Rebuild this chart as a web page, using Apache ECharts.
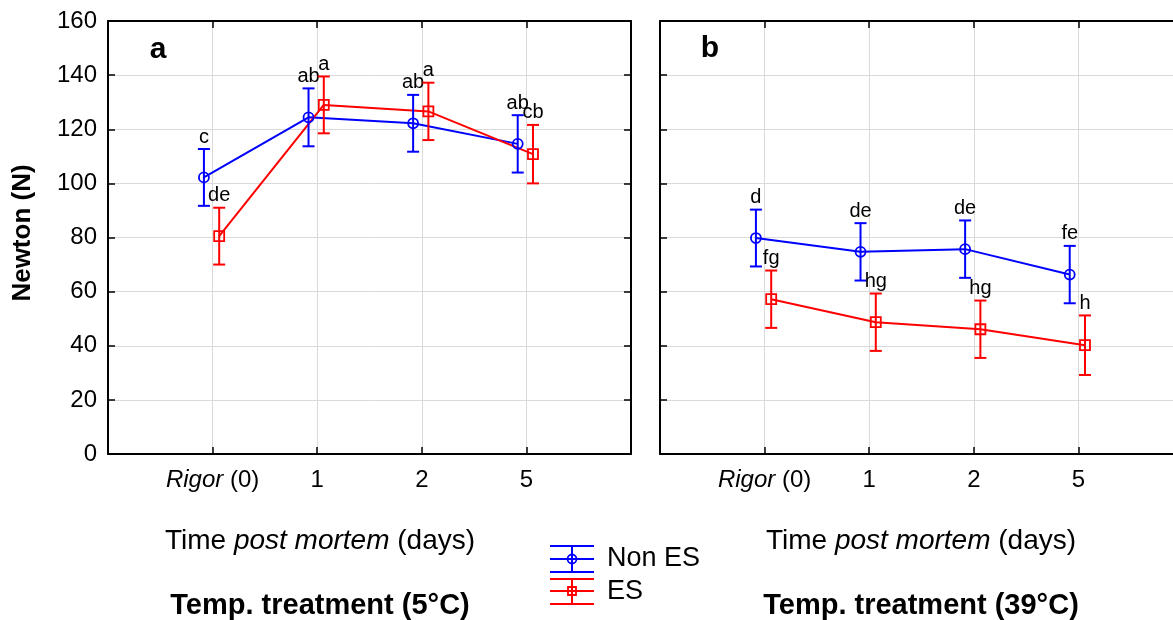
<!DOCTYPE html>
<html><head><meta charset="utf-8">
<script src="https://cdn.jsdelivr.net/npm/echarts@6/dist/echarts.min.js"></script>
<style>html,body{margin:0;padding:0;background:#fff}#c{width:1173px;height:620px}</style>
</head><body><div id="c"></div>
<script>
// ---- data ----
const tickLabels = ['Rigor (0)', '1', '2', '5'];
const yTicks = [0, 20, 40, 60, 80, 100, 120, 140, 160];
// Panel a: Temp. treatment 5°C
const aNonESMean = [102.2, 124.4, 122.2, 114.6];
const aNonESErr  = [10.5, 10.7, 10.5, 10.6];
const aESMean    = [80.5, 129.0, 126.6, 110.8];
const aESErr     = [10.5, 10.5, 10.6, 10.8];
const aNonESLetters = ['c', 'ab', 'ab', 'ab'];
const aESLetters    = ['de', 'a', 'a', 'cb'];
// Panel b: Temp. treatment 39°C
const bNonESMean = [79.8, 74.7, 75.7, 66.3];
const bNonESErr  = [10.5, 10.6, 10.6, 10.6];
const bESMean    = [57.2, 48.7, 46.1, 40.2];
const bESErr     = [10.6, 10.6, 10.6, 11.0];
const bNonESLetters = ['d', 'de', 'de', 'fe'];
const bESLetters    = ['fg', 'hg', 'hg', 'h'];

const FONT = "'Liberation Sans', Arial, Helvetica, sans-serif";
const BLUE = '#0000ff', RED = '#ff0000';
const OFF_NON = -0.083, OFF_ES = 0.063;

const PANEL_W = 523;

function pts(means, errs, off) {
  return means.map((m, i) => [i + off, m, errs[i]]);
}

function errSeries(xi, yi, data, color, letters, shape, z) {
  return {
    type: 'custom', xAxisIndex: xi, yAxisIndex: yi, z: z,
    data: data, encode: { x: 0, y: 1 },
    renderItem: function (params, api) {
      const x = api.value(0), m = api.value(1), e = api.value(2);
      const t = api.coord([x, m + e]), b = api.coord([x, m - e]), c = api.coord([x, m]);
      const ls = { stroke: color, lineWidth: 2 };
      const ch = [
        { type: 'line', shape: { x1: t[0], y1: t[1], x2: b[0], y2: b[1] }, style: ls },
        { type: 'line', shape: { x1: t[0] - 6, y1: t[1], x2: t[0] + 6, y2: t[1] }, style: ls },
        { type: 'line', shape: { x1: b[0] - 6, y1: b[1], x2: b[0] + 6, y2: b[1] }, style: ls },
        shape === 'circle'
          ? { type: 'circle', shape: { cx: c[0], cy: c[1], r: 5 }, style: { fill: 'none', stroke: color, lineWidth: 1.8 } }
          : { type: 'rect', shape: { x: c[0] - 5, y: c[1] - 5, width: 10, height: 10 }, style: { fill: 'none', stroke: color, lineWidth: 1.8 } },
        { type: 'text', x: t[0], y: t[1] - 2, style: { text: letters[params.dataIndex], fill: '#000', font: '20px ' + FONT, align: 'center', verticalAlign: 'bottom' } }
      ];
      return { type: 'group', children: ch };
    }
  };
}

function lineSeries(xi, yi, data, color) {
  return {
    type: 'line', xAxisIndex: xi, yAxisIndex: yi, z: 3,
    data: data.map(d => [d[0], d[1]]), showSymbol: false, symbol: 'none',
    lineStyle: { color: color, width: 2 }, animation: false, silent: true
  };
}

const axisLine = { show: true, onZero: false, lineStyle: { color: '#000', width: 2 } };
const tick = { show: true, inside: true, length: 7, lineStyle: { color: '#000', width: 1.5 } };
const split = { show: true, lineStyle: { color: '#dadada', width: 1 } };

function xAxes(gi) {
  return [
    {
      gridIndex: gi, type: 'value', position: 'bottom', min: -1, max: 4, interval: 1,
      axisLine: axisLine, axisTick: tick, splitLine: split,
      axisLabel: {
        show: true, margin: 14, color: '#000', fontSize: 24, fontFamily: FONT,
        formatter: function (v) {
          const i = Math.round(v);
          if (i < 0 || i >= tickLabels.length) return '';
          return tickLabels[i].replace('Rigor', '{i|Rigor}');
        },
        rich: { i: { fontStyle: 'italic', fontSize: 24, fontFamily: FONT, color: '#000' } }
      }
    },
    {
      gridIndex: gi, type: 'value', position: 'top', min: -1, max: 4, interval: 1,
      axisLine: axisLine, axisTick: tick, splitLine: { show: false }, axisLabel: { show: false }
    }
  ];
}

function yAxis(gi, pos, showLabels, showSplit) {
  return {
    gridIndex: gi, type: 'value', position: pos, min: yTicks[0], max: yTicks[yTicks.length - 1], interval: 20,
    axisLine: axisLine, axisTick: tick,
    splitLine: showSplit ? split : { show: false },
    axisLabel: { show: showLabels, margin: 11, color: '#000', fontSize: 24, fontFamily: FONT }
  };
}

const aN = pts(aNonESMean, aNonESErr, OFF_NON), aE = pts(aESMean, aESErr, OFF_ES);
const bN = pts(bNonESMean, bNonESErr, OFF_NON), bE = pts(bESMean, bESErr, OFF_ES);

const titleRich = {
  n: { fontSize: 28, fontFamily: FONT, color: '#000' },
  i: { fontSize: 28, fontFamily: FONT, fontStyle: 'italic', color: '#000' }
};

function txt(x, y, text, font, align, extra) {
  return Object.assign({
    type: 'text', x: x, y: y, z: 100,
    style: { text: text, font: font, fill: '#000', align: align || 'center', verticalAlign: 'middle' }
  }, extra || {});
}
function seg(x1, y1, x2, y2, c) {
  return { type: 'line', z: 100, shape: { x1: x1, y1: y1, x2: x2, y2: y2 }, style: { stroke: c, lineWidth: 2 } };
}

const graphic = [
  txt(23, 233, 'Newton (N)', 'bold 26px ' + FONT, 'center', { rotation: Math.PI / 2 }),
  txt(158, 50, 'a', 'bold 30px ' + FONT),
  txt(710, 49, 'b', 'bold 30px ' + FONT),
  { type: 'text', x: 320, y: 541, z: 100, style: { text: '{n|Time }{i|post mortem}{n| (days)}', rich: titleRich, align: 'center', verticalAlign: 'middle' } },
  { type: 'text', x: 921, y: 541, z: 100, style: { text: '{n|Time }{i|post mortem}{n| (days)}', rich: titleRich, align: 'center', verticalAlign: 'middle' } },
  txt(320, 606, 'Temp. treatment (5°C)', 'bold 29px ' + FONT),
  txt(921, 606, 'Temp. treatment (39°C)', 'bold 29px ' + FONT),
  // legend
  seg(550, 546, 594, 546, BLUE), seg(550, 559, 594, 559, BLUE), seg(550, 572, 594, 572, BLUE),
  seg(572, 546, 572, 572, BLUE),
  { type: 'circle', z: 101, shape: { cx: 572, cy: 559, r: 4.5 }, style: { fill: 'none', stroke: BLUE, lineWidth: 1.8 } },
  seg(550, 579, 594, 579, RED), seg(550, 591, 594, 591, RED), seg(550, 604, 594, 604, RED),
  seg(572, 579, 572, 604, RED),
  { type: 'rect', z: 101, shape: { x: 568, y: 587, width: 8, height: 8 }, style: { fill: 'none', stroke: RED, lineWidth: 1.8 } },
  txt(607, 559, 'Non ES', '27px ' + FONT, 'left'),
  txt(607, 592, 'ES', '27px ' + FONT, 'left')
];

const option = {
  animation: false,
  backgroundColor: '#fff',
  textStyle: { fontFamily: FONT },
  grid: [
    { left: 108, top: 21, width: PANEL_W, height: 433, containLabel: false, outerBoundsMode: 'none' },
    { left: 660, top: 21, width: PANEL_W, height: 433, containLabel: false, outerBoundsMode: 'none' }
  ],
  xAxis: [].concat(xAxes(0), xAxes(1)),
  yAxis: [yAxis(0, 'left', true, true), yAxis(0, 'right', false, false), yAxis(1, 'left', false, true)],
  series: [
    lineSeries(0, 0, aN, BLUE), lineSeries(0, 0, aE, RED),
    errSeries(0, 0, aN, BLUE, aNonESLetters, 'circle', 5),
    errSeries(0, 0, aE, RED, aESLetters, 'rect', 6),
    lineSeries(2, 2, bN, BLUE), lineSeries(2, 2, bE, RED),
    errSeries(2, 2, bN, BLUE, bNonESLetters, 'circle', 5),
    errSeries(2, 2, bE, RED, bESLetters, 'rect', 6)
  ],
  graphic: graphic
};
const chart = echarts.init(document.getElementById('c'), null, { renderer: 'canvas' });
chart.setOption(option);
</script></body></html>
